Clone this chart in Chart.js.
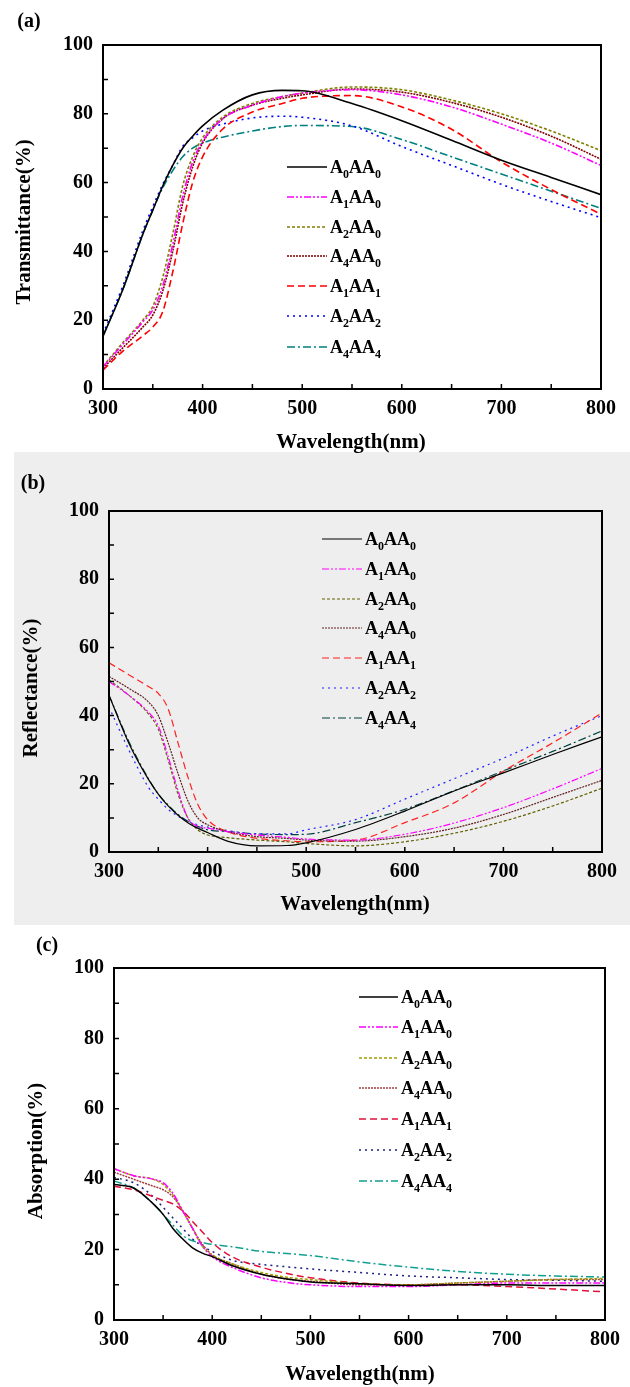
<!DOCTYPE html>
<html>
<head>
<meta charset="UTF-8">
<title>Transmittance / Reflectance / Absorption</title>
<script src="https://cdn.jsdelivr.net/npm/chart.js"></script>
<style>
  body { margin: 0; background: #fff; }
  #page { position: relative; width: 630px; height: 1387px; overflow: hidden; }
  #bgB { position: absolute; left: 14px; top: 452px; width: 616px; height: 473px; background: #eeeeee; }
  canvas { position: absolute; left: 0; }
</style>
</head>
<body>
<div id="page">
  <div id="bgB"></div>
  <canvas id="chartA" width="630" height="460" style="top:0px"></canvas>
  <canvas id="chartB" width="630" height="460" style="top:460px"></canvas>
  <canvas id="chartC" width="630" height="467" style="top:920px"></canvas>
</div>
<script>
// ---- data ----
const wavelength = [300, 320, 340, 350, 360, 370, 380, 390, 400, 420, 450, 480, 500, 550, 600, 650, 700, 750, 800];
const seriesNames = ['A0AA0', 'A1AA0', 'A2AA0', 'A4AA0', 'A1AA1', 'A2AA2', 'A4AA4'];

// (a) transmittance, one row per sample in seriesNames order
const transmittance = [
  [15.3, 29, 45, 52, 59, 65, 70, 73.5, 76.5, 81, 85.5, 86.8, 86.7, 83, 78, 72.3, 66.5, 61.5, 56.5],
  [6.5, 13, 19.5, 23, 30, 42, 56, 66, 72, 78.5, 82.5, 85, 86, 87, 85.5, 82, 77, 71.5, 65],
  [6.6, 13.5, 20, 24, 32.5, 45, 59, 67.5, 73, 79, 83, 85, 86, 87.8, 87, 84, 80, 75, 69.3],
  [6, 12, 18, 21.5, 28.5, 40, 54, 64.5, 71.5, 78.5, 82.5, 84.5, 85.5, 87.2, 86.3, 83.3, 79, 73.5, 66.8],
  [5.5, 11, 15.5, 18, 22.5, 34, 48, 60, 67.5, 75.5, 80.5, 83, 84.5, 85.3, 82, 75.5, 66, 58, 50.8],
  [16, 30, 46, 53, 59.5, 65, 70.5, 73, 75, 77, 78.8, 79.3, 79, 76.5, 70.5, 65, 59.5, 54.5, 49.8],
  [15.5, 29, 45, 52, 58.5, 63.5, 67.5, 70, 71.5, 73.2, 75, 76.3, 76.6, 76.3, 72.5, 67.5, 62.5, 57.5, 52.5]
];

// (b) reflectance
const reflectance = [
  [46, 32, 21.3, 17, 13.5, 10.8, 8.6, 7, 5.7, 3.2, 1.8, 1.9, 2.7, 6.6, 12, 17.9, 23.2, 28.6, 33.8],
  [50, 46, 41, 37, 28, 18, 10, 7.5, 7, 6, 5, 4.3, 3.8, 3.5, 5.2, 8.5, 13, 18.5, 24.5],
  [50.5, 46, 40.5, 36, 27, 17, 10, 6.5, 5, 4.2, 3.5, 3, 2.5, 1.8, 3, 5.5, 9, 13.5, 18.7],
  [51.5, 48, 44, 40, 32, 23, 15, 10, 8, 6, 4.5, 4, 3.5, 3.2, 4.5, 7, 11, 16, 21],
  [55.5, 52, 48.5, 46.5, 42, 32, 22, 14, 9.5, 6, 4, 3.3, 3, 3.5, 8.6, 14.4, 23.7, 32, 40.8],
  [42.5, 30, 19, 15.5, 12.5, 10.5, 9, 8, 7.3, 6.3, 5.3, 5.3, 6.5, 9.5, 15.5, 21.5, 27.5, 34, 40],
  [46, 32.5, 21.5, 17, 13.8, 11, 9, 7.5, 6.5, 6, 5.3, 5.1, 5.2, 8.6, 12.5, 18, 23.8, 29.5, 35.5]
];

// (c) absorption
const absorption = [
  [38.5, 37.5, 33, 30, 26, 23, 20.5, 19, 18, 15.5, 13, 11.5, 10.8, 10.3, 9.8, 10, 10, 9.8, 9.8],
  [43, 41, 40, 39, 36, 31, 26, 21, 18, 15, 12, 10.5, 10, 9.5, 9.5, 10, 10.5, 10.5, 10.5],
  [43, 41, 40, 38.5, 35.5, 31, 26, 21, 18.5, 16, 13.5, 12, 11.5, 10.3, 10, 10.5, 11, 11.5, 11.8],
  [42, 40, 38, 37, 35, 31, 26, 21.5, 18.5, 16, 13, 11.5, 11, 10, 10, 10.5, 11, 11.5, 11.5],
  [38, 37, 35, 34, 33, 31, 28, 25, 22, 18, 15, 13, 12, 10.5, 10, 10, 9.5, 8.8, 8],
  [40.5, 39, 35, 32, 29, 26, 23, 21, 19.5, 17, 15.8, 15, 14.5, 13.5, 12.5, 12, 11.5, 11.3, 11],
  [39.5, 37.5, 33, 30, 27, 24, 22.5, 22, 21.5, 20.8, 19.5, 18.8, 18.3, 16.5, 15, 13.8, 13, 12.5, 12.2]
];

const xTicks = [300, 400, 500, 600, 700, 800];
const yTicks = [0, 20, 40, 60, 80, 100];

// ---- styles ----
const FONT = '"Liberation Serif", "Times New Roman", serif';
const dashes = [[], [7, 2, 2, 2, 2, 2], [3, 2], [2, 1], [7, 4], [2, 4], [8, 3, 2, 3]];

function pts(row) {
  return wavelength.map((w, i) => ({ x: w, y: row[i] }));
}

// writes A0AA0 with the digits as subscripts
function drawSubText(ctx, str, x, y, size) {
  let cx = x;
  for (const ch of str) {
    const isSub = /\d/.test(ch);
    ctx.font = 'bold ' + (isSub ? Math.round(size * 0.64) : size) + 'px ' + FONT;
    ctx.fillText(ch, cx, isSub ? y + size * 0.28 : y);
    cx += ctx.measureText(ch).width;
  }
}

function makePanel(id, p) {
  const canvas = document.getElementById(id);
  const W = canvas.width, H = canvas.height;

  const decor = {
    id: 'decor_' + id,
    afterDraw(chart) {
      const ctx = chart.ctx;
      const a = chart.chartArea;
      const xs = chart.scales.x, ys = chart.scales.y;
      ctx.save();
      // frame
      ctx.strokeStyle = '#000';
      ctx.lineWidth = 2;
      ctx.setLineDash([]);
      ctx.strokeRect(a.left, a.top, a.right - a.left, a.bottom - a.top);
      // inward ticks
      ctx.lineWidth = 1.5;
      ctx.beginPath();
      for (let v = 350; v < 800; v += 50) {
        const px = xs.getPixelForValue(v);
        ctx.moveTo(px, a.bottom); ctx.lineTo(px, a.bottom - 5);
      }
      for (let v = 10; v < 100; v += 10) {
        const py = ys.getPixelForValue(v);
        ctx.moveTo(a.left, py); ctx.lineTo(a.left + 5, py);
      }
      ctx.stroke();

      // legend
      ctx.textBaseline = 'alphabetic';
      ctx.textAlign = 'left';
      chart.data.datasets.forEach((ds, i) => {
        const y = p.legendRows[i];
        ctx.strokeStyle = ds.borderColor;
        ctx.lineWidth = ds.borderWidth;
        ctx.setLineDash(ds.borderDash);
        ctx.beginPath();
        ctx.moveTo(p.legendX1, y); ctx.lineTo(p.legendX2, y);
        ctx.stroke();
        ctx.setLineDash([]);
        ctx.fillStyle = '#000';
        drawSubText(ctx, seriesNames[i], p.legendX2 + 3, y + 6, 18);
      });

      // titles
      ctx.fillStyle = '#000';
      ctx.textAlign = 'center';
      ctx.textBaseline = 'middle';
      ctx.font = 'bold 21px ' + FONT;
      ctx.fillText('Wavelength(nm)', p.xTitle[0], p.xTitle[1]);
      ctx.save();
      ctx.translate(p.yTitle[0], p.yTitle[1]);
      ctx.rotate(-Math.PI / 2);
      ctx.fillText(p.yLabel, 0, 0);
      ctx.restore();
      ctx.font = 'bold 20px ' + FONT;
      ctx.fillText(p.tag, p.tagPos[0], p.tagPos[1]);
      ctx.restore();
    }
  };

  return new Chart(canvas, {
    type: 'line',
    data: {
      datasets: p.rows.map((row, i) => ({
        label: seriesNames[i],
        data: pts(row),
        borderColor: p.colors[i],
        borderWidth: p.lineWidth,
        borderDash: dashes[i],
        pointRadius: 0,
        fill: false,
        cubicInterpolationMode: 'monotone'
      }))
    },
    options: {
      responsive: false,
      animation: false,
      devicePixelRatio: 1,
      layout: { padding: { top: p.box.top, right: W - p.box.right, left: 0, bottom: 0 } },
      plugins: { legend: { display: false }, tooltip: { enabled: false } },
      scales: {
        x: {
          type: 'linear', min: 300, max: 800,
          border: { display: false },
          grid: { display: false, drawTicks: false },
          afterBuildTicks: s => { s.ticks = xTicks.map(v => ({ value: v })); },
          afterFit: s => { s.height = H - p.box.bottom; },
          ticks: { padding: 8, maxRotation: 0, autoSkip: false, color: '#000', font: { family: FONT, size: 20, weight: 'bold' } }
        },
        y: {
          type: 'linear', min: 0, max: 100,
          border: { display: false },
          grid: { display: false, drawTicks: false },
          afterBuildTicks: s => { s.ticks = yTicks.map(v => ({ value: v })); },
          afterFit: s => { s.width = p.box.left; },
          ticks: { padding: 10, color: '#000', font: { family: FONT, size: 20, weight: 'bold' } }
        }
      }
    },
    plugins: [decor]
  });
}

makePanel('chartA', {
  rows: transmittance,
  colors: ['#000000', '#ff00ff', '#808000', '#800000', '#ff0000', '#0000ff', '#008080'],
  lineWidth: 1.6,
  box: { left: 103, top: 45, right: 601, bottom: 389 },
  legendRows: [167, 197, 227, 256, 286, 316, 347],
  legendX1: 287, legendX2: 327,
  yLabel: 'Transmittance(%)', yTitle: [25, 222], xTitle: [351, 443],
  tag: '(a)', tagPos: [29, 22]
});

makePanel('chartB', {
  rows: reflectance,
  colors: ['#000000', '#ff00ff', '#606000', '#602020', '#ff2020', '#2020ff', '#004040'],
  lineWidth: 1.2,
  box: { left: 109, top: 51, right: 602, bottom: 392 },
  legendRows: [79, 109, 139, 168, 198, 228, 258],
  legendX1: 322, legendX2: 362,
  yLabel: 'Reflectance(%)', yTitle: [32, 228], xTitle: [355, 445],
  tag: '(b)', tagPos: [33, 24]
});

makePanel('chartC', {
  rows: absorption,
  colors: ['#000000', '#ff00ff', '#a0a000', '#a04040', '#e0103a', '#202080', '#10a090'],
  lineWidth: 1.5,
  box: { left: 114, top: 48, right: 605, bottom: 400 },
  legendRows: [77, 107, 138, 168, 199, 230, 261],
  legendX1: 359, legendX2: 398,
  yLabel: 'Absorption(%)', yTitle: [37, 231], xTitle: [360, 455],
  tag: '(c)', tagPos: [47, 26]
});
</script>
</body>
</html>
